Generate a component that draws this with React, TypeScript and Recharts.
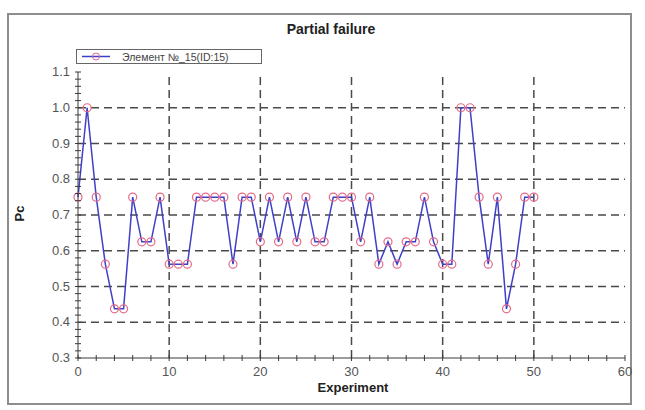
import { LineChart, Line, XAxis, YAxis, ReferenceLine } from 'recharts';

const experiments = [
  0, 1, 2, 3, 4, 5, 6, 7, 8, 9,
  10, 11, 12, 13, 14, 15, 16, 17, 18, 19,
  20, 21, 22, 23, 24, 25, 26, 27, 28, 29,
  30, 31, 32, 33, 34, 35, 36, 37, 38, 39,
  40, 41, 42, 43, 44, 45, 46, 47, 48, 49,
  50,
];

const pcValues = [
  0.75, 1.0, 0.75, 0.5625, 0.4375, 0.4375, 0.75, 0.625, 0.625, 0.75,
  0.5625, 0.5625, 0.5625, 0.75, 0.75, 0.75, 0.75, 0.5625, 0.75, 0.75,
  0.625, 0.75, 0.625, 0.75, 0.625, 0.75, 0.625, 0.625, 0.75, 0.75,
  0.75, 0.625, 0.75, 0.5625, 0.625, 0.5625, 0.625, 0.625, 0.75, 0.625,
  0.5625, 0.5625, 1.0, 1.0, 0.75, 0.5625, 0.75, 0.4375, 0.5625, 0.75,
  0.75,
];

const xMajorTicks = [0, 10, 20, 30, 40, 50, 60];
const yMajorTicks = [0.3, 0.4, 0.5, 0.6, 0.7, 0.8, 0.9, 1.0, 1.1];
const xGridLines = [10, 20, 30, 40, 50];
const yGridLines = [0.4, 0.5, 0.6, 0.7, 0.8, 0.9, 1.0];

const seriesName = 'Элемент №_15(ID:15)';

// minor tick positions (every 2 on x, every 0.02 on y)
const xMinorTicks: number[] = [];
for (let i = 0; i <= 30; i++) xMinorTicks.push(i * 2);
const yMinorTicks: number[] = [];
for (let i = 0; i <= 40; i++) yMinorTicks.push(Math.round((0.3 + i * 0.02) * 100) / 100);

const data = experiments.map((x, i) => ({ x, pc: pcValues[i] }));

const AXIS = '#3a3a3a';
const LINE = '#3f3fc8';
const MARK = '#e46a88';
const FONT = '"Liberation Sans", Arial, sans-serif';

const isMajorX = (v: number) => xMajorTicks.includes(v);
const isMajorY = (v: number) => yMajorTicks.some((t) => Math.abs(t - v) < 1e-6);

function BottomTick({ x, y, payload }: any) {
  const v = payload.value;
  return (
    <g>
      <line x1={x} x2={x} y1={y - 3} y2={y + 3} stroke={AXIS} />
      {isMajorX(v) && (
        <text x={x} y={y + 18} textAnchor="middle" fontSize={13} fill="#555" fontFamily={FONT}>
          {v}
        </text>
      )}
    </g>
  );
}

function TopTick({ x, y }: any) {
  return <line x1={x} x2={x} y1={y} y2={y + 3} stroke={AXIS} />;
}

function LeftTick({ x, y, payload }: any) {
  const v = payload.value;
  return (
    <g>
      <line x1={x - 3} x2={x + 3} y1={y} y2={y} stroke={AXIS} />
      {isMajorY(v) && (
        <text x={x - 8} y={y + 4} textAnchor="end" fontSize={13} fill="#555" fontFamily={FONT}>
          {v.toFixed(1)}
        </text>
      )}
    </g>
  );
}

function RightTick({ x, y }: any) {
  return <line x1={x - 3} x2={x} y1={y} y2={y} stroke={AXIS} />;
}

export default function App() {
  return (
    <div style={{ position: 'absolute', left: 0, top: 0, width: 645, height: 410, background: '#fff', fontFamily: FONT }}>
      <div
        style={{
          position: 'absolute', left: 7, top: 13, width: 625, height: 392,
          border: '2px solid #8e8e8e', boxSizing: 'border-box',
        }}
      />
      <div style={{ position: 'absolute', left: 0, top: 21, width: 662, textAlign: 'center', fontWeight: 'bold', fontSize: 14, color: '#222' }}>
        Partial failure
      </div>
      <div
        style={{
          position: 'absolute', left: 76, top: 49, width: 186, height: 15,
          border: '1px solid #666', boxSizing: 'border-box', background: '#fff',
          display: 'flex', alignItems: 'center', fontSize: 10.5, color: '#444',
        }}
      >
        <svg width={36} height={13} style={{ marginLeft: 2 }}>
          <line x1={3} x2={31} y1={6.5} y2={6.5} stroke={LINE} strokeWidth={1.5} />
          <circle cx={17} cy={6.5} r={3.5} stroke={MARK} fill="none" />
        </svg>
        <span style={{ marginLeft: 7 }}>{seriesName}</span>
      </div>
      <div
        style={{
          position: 'absolute', left: 12, top: 206, fontWeight: 'bold', fontSize: 13, color: '#222',
          transform: 'rotate(-90deg)',
        }}
      >
        Pc
      </div>
      <div style={{ position: 'absolute', left: 0, top: 380, width: 706, textAlign: 'center', fontWeight: 'bold', fontSize: 13, color: '#222' }}>
        Experiment
      </div>
      <div style={{ position: 'absolute', left: 0, top: 0 }}>
        <LineChart width={645} height={410} data={data} margin={{ top: 72, right: 20, bottom: 22, left: 38 }}>
          <XAxis
            dataKey="x"
            type="number"
            domain={[0, 60]}
            ticks={xMinorTicks}
            interval={0}
            height={30}
            tickLine={false}
            tickSize={0}
            tickMargin={0}
            tick={<BottomTick />}
            axisLine={{ stroke: AXIS }}
          />
          <XAxis
            xAxisId="top"
            orientation="top"
            type="number"
            domain={[0, 60]}
            ticks={xMinorTicks}
            interval={0}
            height={0}
            tickLine={false}
            tickSize={0}
            tickMargin={0}
            tick={<TopTick />}
            axisLine={{ stroke: AXIS }}
          />
          <YAxis
            type="number"
            domain={[0.3, 1.1]}
            ticks={yMinorTicks}
            interval={0}
            width={40}
            tickLine={false}
            tickSize={0}
            tickMargin={0}
            tick={<LeftTick />}
            axisLine={{ stroke: AXIS }}
            allowDataOverflow
          />
          <YAxis
            yAxisId="right"
            orientation="right"
            type="number"
            domain={[0.3, 1.1]}
            ticks={yMinorTicks}
            interval={0}
            width={0}
            tickLine={false}
            tickSize={0}
            tickMargin={0}
            tick={<RightTick />}
            axisLine={{ stroke: AXIS }}
            allowDataOverflow
          />
          {xGridLines.map((v) => (
            <ReferenceLine key={'x' + v} x={v} stroke="#4a4a4a" strokeWidth={1.5} strokeDasharray="8 5" />
          ))}
          {yGridLines.map((v) => (
            <ReferenceLine key={'y' + v} y={v} stroke="#4a4a4a" strokeWidth={1.5} strokeDasharray="8 5" />
          ))}
          <Line
            type="linear"
            dataKey="pc"
            name={seriesName}
            stroke={LINE}
            strokeWidth={1.5}
            dot={{ r: 4, stroke: MARK, strokeWidth: 1.2, fill: 'none' }}
            isAnimationActive={false}
          />
        </LineChart>
      </div>
    </div>
  );
}
